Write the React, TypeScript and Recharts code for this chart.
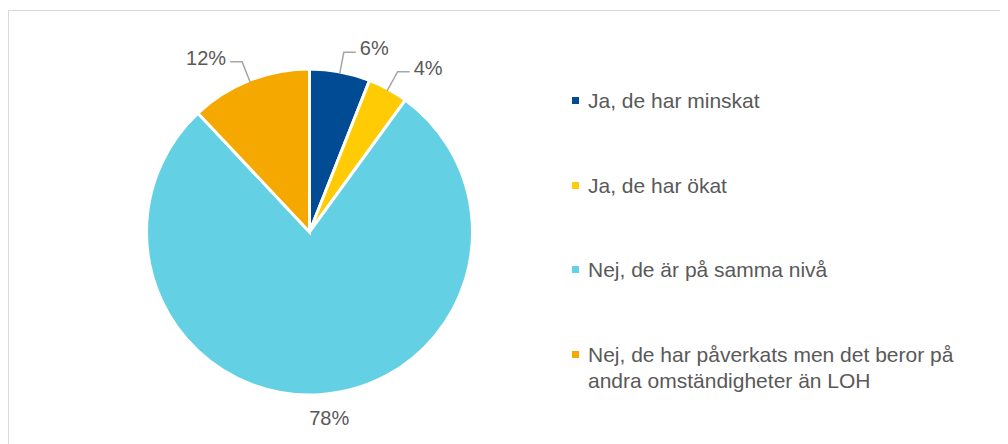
import { PieChart, Pie, Cell, Legend } from "recharts";

const categories = [
  "Ja, de har minskat",
  "Ja, de har ökat",
  "Nej, de är på samma nivå",
  "Nej, de har påverkats men det beror på andra omständigheter än LOH",
];
const shares = [6, 4, 78, 12];
const colors = ["#004B93", "#FFCB05", "#63D0E3", "#F5A800"];

const data = categories.map((name, i) => ({ name, value: shares[i] }));

const RAD = Math.PI / 180;

function renderLabel(props: any) {
  const { cx, cy, midAngle, outerRadius, percent, value } = props;
  const sin = Math.sin(-midAngle * RAD);
  const cos = Math.cos(-midAngle * RAD);
  const text = `${value}%`;
  if (percent > 0.5) {
    const r = outerRadius + 23;
    return (
      <text
        x={cx + r * cos + 8}
        y={cy + r * sin}
        fill="#595959"
        fontSize={20}
        textAnchor="middle"
        dominantBaseline="central"
      >
        {text}
      </text>
    );
  }
  const sx = cx + (outerRadius - 2) * cos;
  const sy = cy + (outerRadius - 2) * sin;
  const mx = cx + (outerRadius + 20) * cos;
  const my = cy + (outerRadius + 20) * sin;
  const dir = cos >= 0 ? 1 : -1;
  const ex = mx + dir * 12;
  return (
    <g>
      <polyline
        points={`${sx},${sy} ${mx},${my} ${ex},${my}`}
        fill="none"
        stroke="#A6A6A6"
        strokeWidth={1.5}
      />
      <text
        x={ex + dir * 4}
        y={my - 4}
        fill="#595959"
        fontSize={20}
        textAnchor={dir > 0 ? "start" : "end"}
        dominantBaseline="central"
      >
        {text}
      </text>
    </g>
  );
}

function LegendList() {
  return (
    <div>
      {categories.map((name, i) => (
        <div
          key={name}
          style={{
            display: "flex",
            alignItems: "flex-start",
            marginBottom: 58.5,
            lineHeight: "26px",
          }}
        >
          <span
            style={{
              display: "inline-block",
              width: 7,
              height: 7,
              background: colors[i],
              marginTop: 9,
              marginRight: 9,
              flexShrink: 0,
            }}
          />
          <span style={{ color: "#595959", fontSize: 21, maxWidth: 380 }}>{name}</span>
        </div>
      ))}
    </div>
  );
}

export default function App() {
  return (
    <div style={{ width: 1000, overflow: "hidden", paddingTop: 2 }}>
      <div
        style={{
          width: 1010,
          height: 440,
          borderTop: "1px solid #D9D9D9",
          borderLeft: "1px solid #D9D9D9",
          fontFamily: "'Liberation Sans', Arial, sans-serif",
          background: "#fff",
        }}
      >
        <PieChart width={1000} height={440}>
          <Pie
            data={data}
            dataKey="value"
            nameKey="name"
            cx={295.5}
            cy={216}
            outerRadius={163}
            startAngle={90}
            endAngle={-270}
            stroke="#ffffff"
            strokeWidth={3}
            label={renderLabel}
            labelLine={false}
            isAnimationActive={false}
          >
            {data.map((d, i) => (
              <Cell key={d.name} fill={colors[i]} />
            ))}
          </Pie>
          <Legend
            content={() => <LegendList />}
            wrapperStyle={{ position: "absolute", left: 563, top: 77, width: 430 }}
          />
        </PieChart>
      </div>
    </div>
  );
}
